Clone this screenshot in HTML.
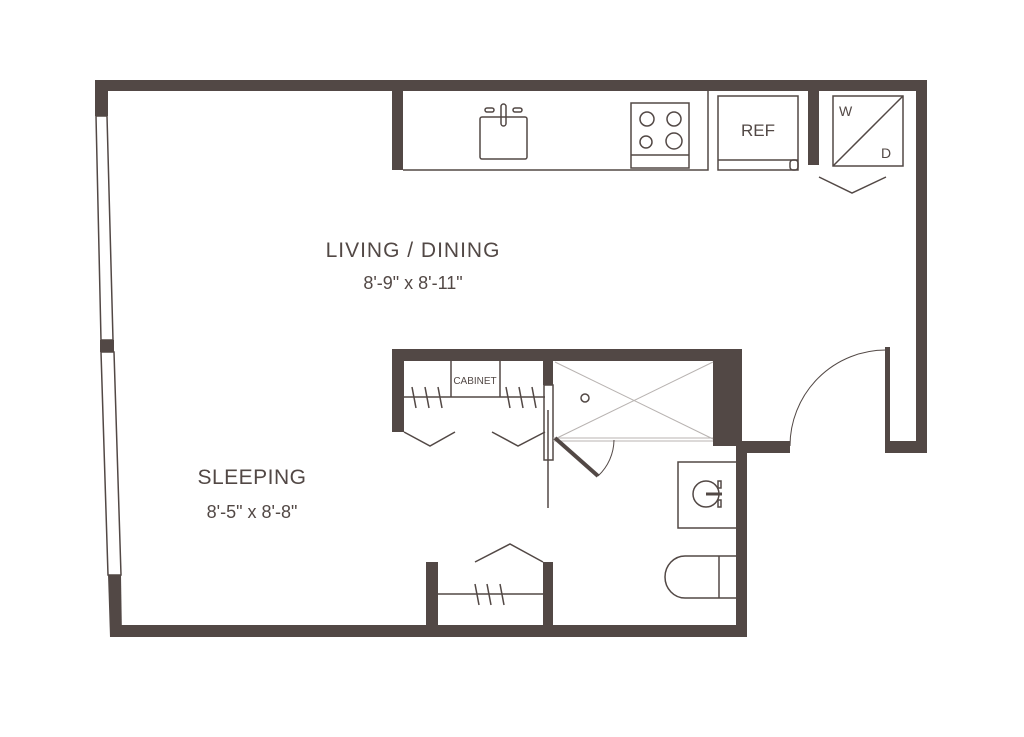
<!DOCTYPE html>
<html><head><meta charset="utf-8"><style>
html,body{margin:0;padding:0;background:#fff}
svg{display:block}
text{font-family:"Liberation Sans",sans-serif;fill:#524845}
</style></head><body>
<svg width="1024" height="737" viewBox="0 0 1024 737" xmlns="http://www.w3.org/2000/svg">
<g fill="#524845">
<rect x="95" y="80" width="832" height="11"/>
<rect x="916" y="80" width="11" height="373"/>
<rect x="885" y="441" width="42" height="12"/>
<rect x="885" y="347" width="5" height="106"/>
<rect x="736" y="441" width="54" height="12"/>
<rect x="736" y="441" width="11" height="196"/>
<rect x="110" y="625" width="637" height="12"/>
<rect x="95" y="80" width="13" height="36"/>
<polygon points="100,340 114,340 114,352 100,352"/>
<polygon points="108,575 121,575 122,637 110,637"/>
<rect x="392" y="91" width="11" height="79"/>
<rect x="808" y="91" width="11" height="74"/>
<rect x="392" y="349" width="348" height="12"/>
<rect x="392" y="349" width="12" height="83"/>
<rect x="713" y="349" width="29" height="97"/>
<rect x="543" y="361" width="10" height="24"/>
<rect x="426" y="562" width="12" height="75"/>
<rect x="543" y="562" width="10" height="75"/>
</g>
<g fill="none" stroke="#524845" stroke-width="1.5">
<polygon points="96,116 107,116 113,340 101,340"/>
<polygon points="101,352 114,352 121,575 108,575"/>
<polyline points="403,170 708,170 708,91"/>
<rect x="480" y="117" width="47" height="42" rx="2"/>
<rect x="485" y="108" width="9" height="4" rx="2"/>
<rect x="513" y="108" width="9" height="4" rx="2"/>
<rect x="501" y="104" width="5" height="22" rx="2.5"/>
<rect x="631" y="103" width="58" height="65"/>
<line x1="631" y1="155" x2="689" y2="155"/>
<circle cx="647" cy="119" r="7"/><circle cx="674" cy="119" r="7"/>
<circle cx="646" cy="142" r="6"/><circle cx="674" cy="141" r="8"/>
<rect x="718" y="96" width="80" height="74"/>
<line x1="718" y1="160" x2="798" y2="160"/>
<rect x="790" y="160" width="8" height="10" rx="3"/>
<rect x="833" y="96" width="70" height="70"/>
<line x1="833" y1="166" x2="903" y2="96"/>
<polyline points="819,177 852,193 886,177"/>
<path d="M790,446 A96,96 0 0 1 886,350" stroke-width="1"/>
<line x1="404" y1="397" x2="545" y2="397"/>
<line x1="451" y1="361" x2="451" y2="397"/>
<line x1="500" y1="361" x2="500" y2="397"/>
<polyline points="404,432 430,446 455,432"/>
<polyline points="492,432 518,446 545,432"/>
<line x1="412" y1="387" x2="416" y2="408"/><line x1="425" y1="387" x2="429" y2="408"/><line x1="438" y1="387" x2="442" y2="408"/>
<line x1="506" y1="387" x2="510" y2="408"/><line x1="519" y1="387" x2="523" y2="408"/><line x1="532" y1="387" x2="536" y2="408"/>
<rect x="544" y="385" width="9" height="75"/>
<line x1="548" y1="410" x2="548" y2="508"/>
<g stroke="#b8b3b1" stroke-width="1">
<line x1="555" y1="362" x2="713" y2="439"/>
<line x1="555" y1="439" x2="713" y2="362"/>
<line x1="553" y1="438" x2="713" y2="438"/>
<line x1="553" y1="441" x2="713" y2="441"/>
</g>
<circle cx="585" cy="398" r="4"/>
<line x1="555" y1="438" x2="598" y2="476" stroke-width="4"/>
<path d="M598,476 A50,50 0 0 0 614,440" stroke-width="1"/>
<rect x="678" y="462" width="59" height="66"/>
<circle cx="706" cy="494" r="13"/>
<line x1="706" y1="494" x2="722" y2="494" stroke-width="3"/>
<rect x="718" y="481" width="3" height="7"/>
<rect x="718" y="500" width="3" height="7"/>
<path d="M737,556 L685,556 A20,21 0 0 0 685,598 L737,598"/>
<line x1="719" y1="556" x2="719" y2="598"/>
<line x1="438" y1="594" x2="543" y2="594"/>
<polyline points="475,562 510,544 543,562"/>
<line x1="475" y1="584" x2="479" y2="605"/><line x1="487" y1="584" x2="491" y2="605"/><line x1="500" y1="584" x2="504" y2="605"/>
</g>
<text x="758" y="136" font-size="17" text-anchor="middle" font-weight="500">REF</text>
<text x="839" y="116" font-size="14">W</text>
<text x="881" y="158" font-size="14">D</text>
<text x="475" y="384" font-size="10" text-anchor="middle">CABINET</text>
<text x="413" y="257" font-size="21" text-anchor="middle" letter-spacing="1" font-weight="500">LIVING / DINING</text>
<text x="413" y="289" font-size="18" text-anchor="middle">8'-9" x 8'-11"</text>
<text x="252" y="484" font-size="21" text-anchor="middle" letter-spacing="0.5" font-weight="500">SLEEPING</text>
<text x="252" y="518" font-size="18" text-anchor="middle">8'-5" x 8'-8"</text>
</svg>
</body></html>
